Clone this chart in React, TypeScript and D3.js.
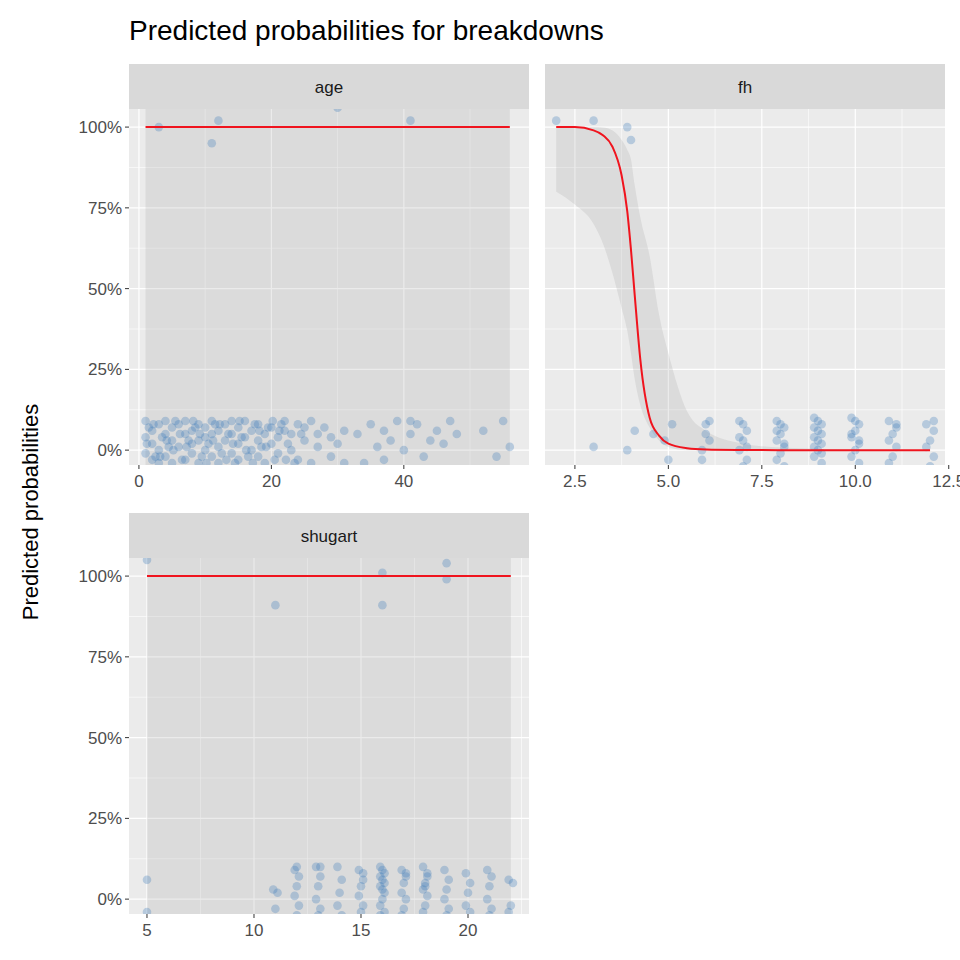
import React from 'react';
import * as d3 from 'd3';

// points: [x, y]
const agePoints: [number, number][] = [
  [1,0.09],[1,0.04],[1,-0.01],[2,0.06],[2,0.02],[2,-0.03],[3,0.08],[3,0.0],[3,-0.04],[4,0.05],[4,0.09],[4,-0.02],
  [5,0.03],[5,0.07],[5,-0.04],[6,0.01],[6,0.08],[7,0.05],[7,-0.03],[7,0.09],[8,0.02],[8,0.06],[8,-0.01],[9,0.08],
  [9,0.03],[9,-0.04],[10,0.07],[10,0.0],[10,0.04],[11,0.09],[11,-0.02],[11,0.05],[12,0.06],[12,0.01],[12,-0.04],
  [13,0.08],[13,0.03],[14,0.05],[14,-0.01],[14,0.09],[15,0.02],[15,0.07],[15,-0.03],[16,0.09],[16,0.04],[17,0.0],
  [17,0.06],[18,0.08],[18,-0.02],[18,0.03],[19,0.05],[19,-0.04],[20,0.07],[20,0.02],[21,0.04],[21,-0.01],[22,0.06],
  [22,0.09],[23,0.0],[23,0.05],[24,0.08],[24,-0.03],[25,0.03],[25,0.07],[26,0.09],[26,-0.04],[27,0.05],[27,0.01],
  [28,0.07],[29,-0.02],[29,0.04],[30,0.02],[31,-0.04],[31,0.06],[33,0.05],[34,-0.04],[35,0.08],[36,0.01],[37,0.06],
  [37,-0.03],[38,0.03],[39,0.09],[40,0.0],[41,0.09],[41,0.05],[42,0.08],[43,-0.02],[44,0.03],[45,0.06],[46,0.02],
  [47,0.09],[48,0.05],[52,0.06],[54,-0.02],[55,0.09],[56,0.01],
  [1.5,0.07],[2.5,-0.02],[3.5,0.04],[4.5,0.01],[5.5,0.09],[6.5,-0.03],[7.5,0.03],[8.5,0.07],[9.5,-0.02],[10.5,0.02],
  [11.5,0.08],[12.5,-0.01],[13.5,0.05],[14.5,-0.04],[15.5,0.04],[16.5,-0.02],[17.5,0.08],[18.5,0.01],[19.5,0.07],
  [20.5,-0.03],[21.5,0.08],[22.5,0.02],[23.5,-0.04],[24.5,0.05],
  [1.2,0.02],[2.2,0.08],[3.2,-0.02],[4.2,0.03],[5.2,0.0],[6.2,0.05],[7.2,0.01],[8.2,0.09],[9.2,0.05],[10.2,-0.04],
  [11.2,0.03],[12.2,0.08],[13.2,-0.03],[14.2,0.02],[15.2,0.09],[16.2,0.0],[17.2,-0.04],[18.2,0.06],[19.2,0.01],
  [20.2,0.09],[21.2,0.06],[22.2,-0.03],[3,1.0],[9,1.07],[11,0.95],[12,1.02],[30,1.06],[41,1.02],
];

const fhPoints: [number, number][] = [
  [2,1.02],[3,1.02],[3.9,1.0],[4,0.96],[3,0.01],[3.9,0.0],[4.1,0.06],[4.6,0.05],[4.9,0.03],[5,-0.03],[5.1,0.08],
  [5.9,0.0],[6.1,0.09],[6,0.05],[5.9,-0.03],[6.1,0.03],[6,0.08],
  [6.9,0.09],[7.1,0.06],[7,0.03],[6.9,0.0],[7.1,-0.03],[7,0.08],[6.9,0.04],[7.1,0.01],[7,-0.05],
  [7.9,0.09],[8.1,0.07],[8,0.05],[7.9,0.03],[8.1,0.01],[8,-0.01],[7.9,-0.03],[8.1,-0.05],[8,0.08],[7.9,0.06],[8.1,0.02],
  [8.9,0.1],[9.1,0.08],[9,0.06],[8.9,0.04],[9.1,0.02],[9,0.0],[8.9,-0.02],[9.1,-0.04],[9,0.09],[8.9,0.07],[9.1,0.05],[9,0.03],[8.9,0.01],[9.1,-0.01],
  [9.9,0.1],[10.1,0.08],[10,0.06],[9.9,0.04],[10.1,0.02],[10,0.0],[9.9,-0.02],[10.1,-0.04],[10,0.09],[9.9,0.05],[10.1,0.03],
  [10.9,0.09],[11.1,0.07],[11,0.05],[10.9,0.03],[11.1,0.01],[11,-0.02],[10.9,-0.04],[11.1,0.08],
  [11.9,0.08],[12.1,0.06],[12,0.03],[11.9,0.01],[12.1,-0.02],[12,-0.05],[12.1,0.09],
];

const shugartPoints: [number, number][] = [
  [5,1.05],[11,0.91],[16,1.01],[16,0.91],[19,1.04],[19,0.99],[5,0.06],[5,-0.04],[10.9,0.03],[11.1,0.02],[11,-0.03],
  [11.9,0.09],[12.1,0.07],[12,0.04],[11.9,0.01],[12.1,-0.02],[12,-0.05],[12,0.1],
  [12.9,0.1],[13.1,0.07],[13,0.04],[12.9,0.0],[13.1,-0.03],[13,-0.05],[13.1,0.1],
  [13.9,0.1],[14.1,0.06],[14,0.02],[13.9,-0.02],[14.1,-0.05],
  [14.9,0.09],[15.1,0.06],[15,0.04],[14.9,0.01],[15.1,-0.02],[15,-0.04],[15.1,0.08],
  [15.9,0.1],[16.1,0.08],[16,0.06],[15.9,0.04],[16.1,0.02],[16,0.0],[15.9,-0.02],[16.1,-0.04],[16,0.09],[15.9,0.07],[16.1,0.05],[16,0.03],[15.9,-0.05],
  [16.9,0.09],[17.1,0.07],[17,0.05],[16.9,0.02],[17.1,0.0],[17,-0.03],[16.9,-0.05],[17.1,0.08],
  [17.9,0.1],[18.1,0.07],[18,0.05],[17.9,0.03],[18.1,0.01],[18,-0.02],[17.9,-0.04],[18.1,0.08],[18,0.04],
  [18.9,0.09],[19.1,0.06],[19,0.03],[18.9,0.0],[19.1,-0.03],[19,-0.05],
  [19.9,0.08],[20.1,0.05],[20,0.02],[19.9,-0.02],[20.1,-0.04],
  [20.9,0.09],[21.1,0.07],[21,0.04],[20.9,0.0],[21.1,-0.03],[21,-0.05],
  [21.9,0.06],[22.1,0.05],[22,-0.02],[21.9,-0.04],
];

// fitted curve and ribbon: [x, fit, lower, upper]
const fhFit: [number, number, number, number][] = [
  [2,1.0,0.8,1.0],[2.5,1.0,0.76,1.0],[3,0.99,0.7,1.0],[3.25,0.975,0.64,0.999],[3.5,0.94,0.55,0.99],
  [3.75,0.85,0.44,0.96],[3.9,0.74,0.37,0.93],[4,0.62,0.3,0.9],[4.1,0.48,0.22,0.82],[4.25,0.28,0.14,0.72],
  [4.5,0.1,0.07,0.6],[4.75,0.045,0.03,0.42],[5,0.02,0.01,0.3],[5.5,0.006,0,0.12],[6,0.002,0,0.06],
  [7,0.0005,0,0.02],[8,0,0,0.008],[10,0,0,0.002],[12,0,0,0],
];
const ageFit: [number, number, number, number][] = [[1,1,-0.2,1.2],[56,1,-0.2,1.2]];
const shugartFit: [number, number, number, number][] = [[5,1,-0.2,1.2],[22,1,-0.2,1.2]];

const yTicks = [0, 0.25, 0.5, 0.75, 1];

interface PanelDef {
  name: string; left: number; top: number; domain: [number, number];
  ticks: number[]; minor: number[]; fmt: (v: number) => string;
  points: [number, number][]; fit: [number, number, number, number][];
}

const W = 400, STRIP = 45, PH = 356;

const panels: PanelDef[] = [
  { name: 'age', left: 129, top: 64, domain: [-1.5, 58.9], ticks: [0, 20, 40], minor: [10, 30, 50],
    fmt: d3.format('d'), points: agePoints, fit: ageFit },
  { name: 'fh', left: 545, top: 64, domain: [1.7, 12.4], ticks: [2.5, 5, 7.5, 10, 12.5], minor: [3.75, 6.25, 8.75, 11.25],
    fmt: d3.format('.1f'), points: fhPoints, fit: fhFit },
  { name: 'shugart', left: 129, top: 513, domain: [4.16, 22.85], ticks: [5, 10, 15, 20], minor: [7.5, 12.5, 17.5, 22.5],
    fmt: d3.format('d'), points: shugartPoints, fit: shugartFit },
];

const Panel: React.FC<{ p: PanelDef }> = ({ p }) => {
  const x = d3.scaleLinear().domain(p.domain).range([0, W]);
  const y = d3.scaleLinear().domain([-0.046, 1.056]).range([PH, 0]);
  const area = d3.area<[number, number, number, number]>()
    .x(d => x(d[0])).y0(d => y(d[2])).y1(d => y(d[3])).curve(d3.curveMonotoneX);
  const line = d3.line<[number, number, number, number]>()
    .x(d => x(d[0])).y(d => y(d[1])).curve(d3.curveMonotoneX);
  const yMinor = [0.125, 0.375, 0.625, 0.875];
  return (
    <g transform={`translate(${p.left},${p.top})`}>
      <rect width={W} height={STRIP} fill="#d9d9d9" />
      <text x={W / 2} y={STRIP / 2 + 6} textAnchor="middle" fontSize={17} fill="#1a1a1a">{p.name}</text>
      <g transform={`translate(0,${STRIP})`}>
        <defs><clipPath id={`clip-${p.name}`}><rect width={W} height={PH} /></clipPath></defs>
        <rect width={W} height={PH} fill="#ebebeb" />
        {p.minor.map(v => <line key={'xm' + v} x1={x(v)} x2={x(v)} y1={0} y2={PH} stroke="#fff" strokeWidth={0.6} />)}
        {yMinor.map(v => <line key={'ym' + v} x1={0} x2={W} y1={y(v)} y2={y(v)} stroke="#fff" strokeWidth={0.6} />)}
        {p.ticks.map(v => <line key={'x' + v} x1={x(v)} x2={x(v)} y1={0} y2={PH} stroke="#fff" strokeWidth={1.2} />)}
        {yTicks.map(v => <line key={'y' + v} x1={0} x2={W} y1={y(v)} y2={y(v)} stroke="#fff" strokeWidth={1.2} />)}
        <g clipPath={`url(#clip-${p.name})`}>
          <path d={area(p.fit) || ''} fill="#999" fillOpacity={0.2} />
          {p.points.map((d, i) => (
            <circle key={i} cx={x(d[0])} cy={y(d[1])} r={4.3} fill="#3a7ab8" fillOpacity={0.3} />
          ))}
          <path d={line(p.fit) || ''} fill="none" stroke="#f0141e" strokeWidth={2} />
        </g>
        {p.ticks.map(v => (
          <g key={'t' + v} transform={`translate(${x(v)},${PH})`}>
            <line y2={4} stroke="#333" />
            <text y={22} textAnchor="middle" fontSize={17} fill="#4d4d4d">{p.fmt(v)}</text>
          </g>
        ))}
        {(p.name !== 'fh') && yTicks.map(v => (
          <g key={'yt' + v} transform={`translate(0,${y(v)})`}>
            <line x2={-4} stroke="#333" />
            <text x={-7} dy="0.35em" textAnchor="end" fontSize={17} fill="#4d4d4d">{d3.format('.0%')(v)}</text>
          </g>
        ))}
      </g>
    </g>
  );
};

export default function App() {
  return (
    <svg width={960} height={960} style={{ position: 'absolute', left: 0, top: 0, fontFamily: 'Arial, Liberation Sans, sans-serif' }}>
      <rect width={960} height={960} fill="#fff" />
      <text x={129} y={40} fontSize={28} fill="#000">Predicted probabilities for breakdowns</text>
      <text transform="translate(38,512) rotate(-90)" textAnchor="middle" fontSize={22} fill="#000">Predicted probabilities</text>
      {panels.map(p => <Panel key={p.name} p={p} />)}
    </svg>
  );
}
